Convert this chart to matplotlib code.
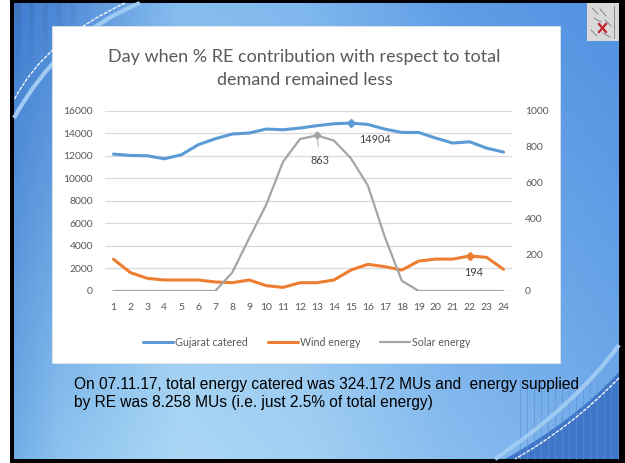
import numpy as np
import matplotlib
matplotlib.use('Agg')
import matplotlib.pyplot as plt
from matplotlib.patches import Rectangle, PathPatch
from matplotlib.path import Path
from matplotlib.colors import to_rgb

# ---------------- data ----------------
hours = list(range(1, 25))
gujarat_catered = [12150, 12030, 12000, 11730, 12090, 12980, 13510, 13930, 14020, 14370,
                   14310, 14460, 14670, 14840, 14904, 14780, 14370, 14070, 14070, 13570,
                   13130, 13240, 12680, 12330]
wind_energy = [176, 102, 70, 61, 61, 61, 50, 46, 61, 30, 20, 46, 46, 61, 116, 148, 135,
               116, 166, 177, 177, 194, 187, 120]
solar_energy = [0, 0, 0, 0, 0, 0, 0, 102, 292, 477, 717, 843, 863, 834, 736, 585, 300,
                57, 0, 0, 0, 0, 0, 0]
series_names = ["Gujarat catered", "Wind energy", "Solar energy"]
left_ticks = [0, 2000, 4000, 6000, 8000, 10000, 12000, 14000, 16000]
right_ticks = [0, 200, 400, 600, 800, 1000]
title_lines = ["Day when % RE contribution with respect to total", "demand remained less"]
note_lines = ["On 07.11.17, total energy catered was 324.172 MUs and  energy supplied",
              "by RE was 8.258 MUs (i.e. just 2.5% of total energy)"]

W, H = 625, 463
def fx(px):
    return px / W
def fy(py):
    return 1 - py / H

fig = plt.figure(figsize=(W / 100, H / 100), dpi=100)
fig.patch.set_facecolor('white')

# ---------------- slide background ----------------
bg = fig.add_axes([0, 0, 1, 1])
bg.set_xlim(0, W)
bg.set_ylim(H, 0)
bg.axis('off')

xs = [0, 60, 180, 300, 450, 625]
top_cols = ['#3b78cd', '#4f8ad8', '#86bdef', '#7fb8ee', '#5f9de6', '#5090e0']
bot_cols = ['#6aa6e4', '#8dc4ef', '#acd7f5', '#a4d1f3', '#88bdef', '#72abea']
gx = np.arange(W)
gy = np.arange(H)
top = np.stack([np.interp(gx, xs, [to_rgb(c)[i] for c in top_cols]) for i in range(3)], -1)
bot = np.stack([np.interp(gx, xs, [to_rgb(c)[i] for c in bot_cols]) for i in range(3)], -1)
t = (gy / H)[:, None, None]
img = top[None, :, :] * (1 - t) + bot[None, :, :] * t
X, Y = np.meshgrid(gx, gy)
fade = np.clip(1 - (X / 130.0 + Y / 110.0), 0, 1)
stripes = (np.sin(X / 2.2) > 0.3).astype(float)
img = img * (1 - 0.10 * (stripes * fade)[..., None])
img = np.clip(img, 0, 1)

# black frame
bg.add_patch(Rectangle((10, 0), W - 10, H, facecolor='black', edgecolor='none', zorder=0))
bg.imshow(img[3:459, 14:619], extent=(14, 619, 459, 3), zorder=1, aspect='auto')

# bottom-right dark region
verts = [(619, 372), (575, 420), (505, 459), (619, 459), (619, 372)]
codes = [Path.MOVETO, Path.CURVE3, Path.CURVE3, Path.LINETO, Path.CLOSEPOLY]
bg.add_patch(PathPatch(Path(verts, codes), facecolor='#3f76c8', edgecolor='none', zorder=2))
for gxl in range(520, 620, 7):
    bg.plot([gxl, gxl], [380, 459], color='#5a8ed6', lw=0.4, zorder=2.1)
bg.add_patch(PathPatch(Path([(619, 345), (575, 405), (495, 459)], [Path.MOVETO, Path.CURVE3, Path.CURVE3]),
                       facecolor='none', edgecolor='#9fcaf2', lw=3, zorder=2.2))
bg.add_patch(PathPatch(Path([(619, 378), (570, 428), (515, 459)], [Path.MOVETO, Path.CURVE3, Path.CURVE3]),
                       facecolor='none', edgecolor='white', lw=0.9, ls=(0, (3, 1)), zorder=2.3))
# top-left curves
bg.add_patch(PathPatch(Path([(140, 3), (60, 35), (14, 118)], [Path.MOVETO, Path.CURVE3, Path.CURVE3]),
                       facecolor='none', edgecolor='#9fcaf2', lw=3, zorder=2.2))
bg.add_patch(PathPatch(Path([(125, 3), (45, 40), (14, 100)], [Path.MOVETO, Path.CURVE3, Path.CURVE3]),
                       facecolor='none', edgecolor='white', lw=0.9, ls=(0, (3, 1)), zorder=2.3))

# logo placeholder at top-right
bg.add_patch(Rectangle((587, 3), 32, 38, facecolor='#d9d9d9', edgecolor='none', zorder=3))
for (a, b, c, d) in [(592, 8, 598, 14), (600, 9, 606, 16), (594, 18, 601, 22), (605, 20, 611, 26),
                     (591, 30, 597, 36), (603, 33, 610, 37), (614, 6, 614, 38)]:
    bg.plot([a, c], [b, d], color='#7a7a7a', lw=0.6, zorder=3.1)
bg.plot([599, 606], [24, 32], color='#c0202a', lw=1.6, zorder=3.2)
bg.plot([606, 599], [24, 32], color='#c0202a', lw=1.6, zorder=3.2)

# white chart box
bg.add_patch(Rectangle((52, 26), 508, 337, facecolor='white', edgecolor='#e6e6e6', lw=0.5, zorder=4))

# ---------------- chart ----------------
tick_color = '#595959'
fam = ['Lato', 'DejaVu Sans']

ax = fig.add_axes([fx(105), fy(291), (512 - 105) / W, (291 - 110.7) / H])
ax.set_facecolor('none')
ax2 = ax.twinx()

l1, = ax.plot(hours, gujarat_catered, color='#5b9bd5', lw=2.2, solid_capstyle='round', zorder=3)
l2, = ax2.plot(hours, wind_energy, color='#ed7d31', lw=2.2, solid_capstyle='round', zorder=3)
l3, = ax2.plot(hours, solar_energy, color='#a5a5a5', lw=1.6, solid_capstyle='round', zorder=4)

ax.set_xlim(0.5, 24.5)
ax.set_ylim(0, 16000)
ax2.set_ylim(0, 1000)
ax.set_yticks(left_ticks)
ax2.set_yticks(right_ticks)
ax.set_xticks(hours)
ax.set_xticklabels([str(h) for h in hours])
ax.yaxis.grid(True, color='#d9d9d9', lw=0.9)
ax.set_axisbelow(True)
for a in (ax, ax2):
    for s in a.spines.values():
        s.set_visible(False)
ax.tick_params(axis='both', length=0, labelsize=7.5, labelcolor=tick_color)
ax.tick_params(axis='y', pad=8.6)
ax.tick_params(axis='x', pad=9)
ax2.tick_params(axis='y', length=0, labelsize=7.5, labelcolor=tick_color, pad=9.4)
for lab in ax.get_xticklabels() + ax.get_yticklabels() + ax2.get_yticklabels():
    lab.set_family(fam)

# highlighted points with data labels
i15 = hours.index(15)
i13 = hours.index(13)
i22 = hours.index(22)
ax.plot(hours[i15], gujarat_catered[i15], marker='D', ms=4, color='#5b9bd5', zorder=5)
ax2.plot(hours[i13], solar_energy[i13], marker='D', ms=3.5, color='#a5a5a5', zorder=5)
ax2.plot(hours[i22], wind_energy[i22], marker='D', ms=4, color='#ed7d31', zorder=5)
lab_kw = dict(textcoords='offset points', ha='center', va='center', fontsize=7.8,
              color='#404040', family=fam)
ax.annotate(str(gujarat_catered[i15]), (hours[i15], gujarat_catered[i15]), xytext=(17.3, -11.5), **lab_kw)
ax2.annotate(str(solar_energy[i13]), (hours[i13], solar_energy[i13]), xytext=(2.2, -18), **lab_kw,
             arrowprops=dict(arrowstyle='-', color='#a5a5a5', lw=0.6, shrinkA=4, shrinkB=2))
ax2.annotate(str(wind_energy[i22]), (hours[i22], wind_energy[i22]), xytext=(3, -12), **lab_kw)

fig.legend([l1, l2, l3], series_names, loc='center', bbox_to_anchor=(fx(307), fy(342)), ncol=3,
           frameon=False, handlelength=2.8, handletextpad=0.15, columnspacing=1.9,
           prop={'family': fam, 'size': 7.7}, labelcolor=tick_color)

fig.text(fx(304), fy(57), title_lines[0], ha='center', va='center', fontsize=13, family=fam, color='#595959')
fig.text(fx(305), fy(80), title_lines[1], ha='center', va='center', fontsize=13, family=fam, color='#595959')

fig.text(fx(74), fy(385), note_lines[0], ha='left', va='center', fontsize=11.2,
         family=['Liberation Sans', 'DejaVu Sans'], color='black')
fig.text(fx(74), fy(403), note_lines[1], ha='left', va='center', fontsize=11.2,
         family=['Liberation Sans', 'DejaVu Sans'], color='black')

fig.savefig('out.png', dpi=100)
